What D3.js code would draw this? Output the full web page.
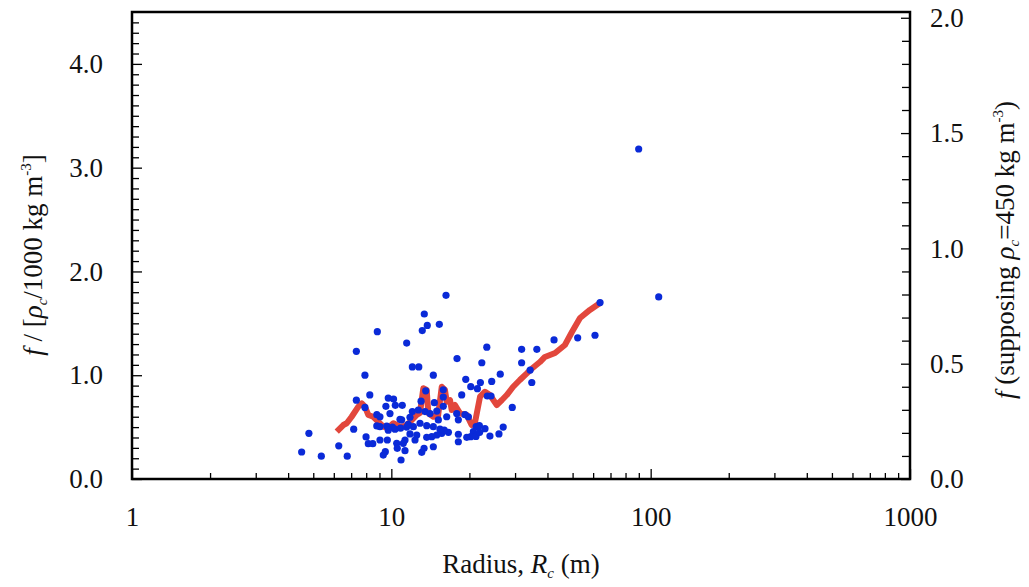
<!DOCTYPE html>
<html><head><meta charset="utf-8">
<script src="https://cdn.jsdelivr.net/npm/d3@7"></script>
</head><body style="margin:0;background:#fff;font-family:'Liberation Serif',serif">
<div id="xt" style="position:absolute;left:0;top:551px;width:1042px;text-align:center;font-size:27px;line-height:1;color:#111;">Radius, <i>R</i><i style="font-size:15px;vertical-align:-5px;">c</i> (m)</div>
<svg id="c" width="1029" height="587" style="display:block">
<text id="lt" transform="translate(42,255) rotate(-90)" text-anchor="middle" font-size="27" fill="#111"><tspan font-style="italic">f</tspan> / [<tspan font-style="italic">ρ</tspan><tspan font-style="italic" font-size="15" dy="5">c</tspan><tspan dy="-5">/1000 kg m</tspan><tspan font-size="15" dy="-11">-3</tspan><tspan dy="11">]</tspan></text>
<text id="rt" transform="translate(1014,250) rotate(-90)" text-anchor="middle" font-size="27" fill="#111"><tspan font-style="italic">f</tspan>  (supposing <tspan font-style="italic">ρ</tspan><tspan font-style="italic" font-size="15" dy="5">c</tspan><tspan dy="-5">=450 kg m</tspan><tspan font-size="15" dy="-11">-3</tspan><tspan dy="11">)</tspan></text>
</svg>
<script>
// Scatter points: radius R_c (m) and f / [rho_c/1000 kg m^-3]
const radius = [4.51,4.81,5.37,6.27,6.76,7.16,8.83,11.46,7.33,7.91,7.33,8.26,9.73,10.2,9.53,10.36,11.02,7.91,9.88,8.79,9.04,7.99,8.15,8.48,9.04,9.65,10.9,9.48,9.31,10.49,10.54,11.29,8.79,9.04,9.6,10.1,9.73,10.33,10.8,10.85,11.46,16.25,13.40,13.76,13.16,15.31,23.34,31.8,12.05,12.76,17.92,22.33,31.8,14.52,26.3,19.36,22.05,24.38,20.24,21.47,18.68,23.45,24.23,29.26,13.57,15.86,15.86,13.02,14.65,15.86,12.05,12.71,13.49,14.10,14.97,17.87,19.23,19.82,16.35,18.13,11.80,10.96,12.9,12.16,11.62,13.69,14.52,15.18,21.23,21.85,22.97,27.0,26.0,24.0,20.72,20.24,19.54,18.13,18.13,16.60,15.65,14.97,14.32,13.69,12.53,11.80,11.29,12.34,11.12,14.52,13.10,13.37,16.0,15.4,36.4,42.4,52.3,61.0,63.8,34.3,34.8,89.9,107.4,21.2,21.9];
const fValue = [0.26,0.44,0.22,0.32,0.22,0.48,1.42,1.31,1.23,1.00,0.76,0.81,0.78,0.77,0.70,0.71,0.71,0.69,0.63,0.62,0.60,0.405,0.34,0.34,0.376,0.376,0.183,0.263,0.231,0.344,0.296,0.273,0.511,0.504,0.51,0.50,0.47,0.48,0.575,0.49,0.50,1.77,1.59,1.48,1.43,1.49,1.27,1.25,1.08,1.08,1.16,1.12,1.12,1.00,1.01,0.96,0.93,0.94,0.89,0.87,0.81,0.80,0.80,0.69,0.85,0.86,0.79,0.75,0.735,0.70,0.65,0.665,0.65,0.63,0.655,0.63,0.62,0.60,0.60,0.57,0.595,0.57,0.537,0.504,0.527,0.514,0.504,0.569,0.504,0.514,0.485,0.50,0.434,0.414,0.456,0.408,0.402,0.431,0.359,0.45,0.44,0.424,0.408,0.402,0.424,0.434,0.376,0.376,0.344,0.311,0.257,0.296,0.47,0.48,1.25,1.34,1.36,1.385,1.70,1.05,0.93,3.18,1.754,0.41,0.45];
// Running average (red curve)
const avgRadius = [6.16,6.53,6.73,7.03,7.46,7.69,7.91,8.15,8.52,9.04,9.31,9.71,10.18,10.8,11.29,11.80,12.53,12.90,13.28,13.69,13.89,14.52,15.14,15.65,16.1,16.35,16.84,17.09,17.6,18.4,19.54,20.4,21.0,21.98,22.97,24.0,25.5,26.7,27.86,29.5,31.3,33.3,34.3,37.4,39.1,42.8,46.7,49.7,53.4,58.3,63.8];
const avgF = [0.456,0.52,0.537,0.60,0.697,0.729,0.697,0.617,0.60,0.537,0.504,0.49,0.537,0.504,0.511,0.549,0.617,0.636,0.874,0.858,0.633,0.60,0.607,0.889,0.858,0.745,0.761,0.665,0.713,0.633,0.617,0.52,0.54,0.793,0.841,0.809,0.713,0.761,0.809,0.889,0.954,1.018,1.05,1.127,1.176,1.214,1.291,1.416,1.551,1.629,1.696];
const xTickValues = [1,10,100,1000];
const yTickValues = [0,1,2,3,4];
const yRightTickValues = [0,0.5,1,1.5,2];

const svg = d3.select("#c");
const L = 132, R = 910, T = 12, B = 479;
const FS = 27;
const x = d3.scaleLog().domain([1,1000]).range([L,R]);
const y = d3.scaleLinear().domain([0,4.5]).range([B,T]);
const yR = d3.scaleLinear().domain([0,4.5*0.45]).range([B,T]);

const xMinor = [];
for (let d=1; d<1000; d*=10) for (let k=2;k<=9;k++) xMinor.push(d*k);
const yMinor = d3.range(0,45).map(i=>i/10).filter(v=>Math.abs(v-Math.round(v))>1e-6);
const yRMinor = d3.range(0,21).map(i=>i/10).filter(v=>Math.abs(v*2-Math.round(v*2))>1e-6);

function style(g){ g.select(".domain").remove(); g.selectAll("line").attr("stroke","#000").attr("stroke-width",1.3);
  g.attr("font-family",null).attr("font-size",FS);
  g.selectAll("text").attr("font-size",FS).attr("fill","#111"); }

svg.append("g").attr("transform",`translate(0,${B})`)
  .call(d3.axisBottom(x).tickValues(xMinor).tickSize(-6).tickFormat("")).call(style);
svg.append("g").attr("transform",`translate(0,${B})`)
  .call(d3.axisBottom(x).tickValues(xTickValues).tickSize(-10).tickPadding(28).tickFormat(d3.format("d"))).call(style);

svg.append("g").attr("transform",`translate(${L},0)`)
  .call(d3.axisLeft(y).tickValues(yMinor).tickSize(-7).tickFormat("")).call(style);
svg.append("g").attr("transform",`translate(${L},0)`)
  .call(d3.axisLeft(y).tickValues(yTickValues).tickSize(-10).tickPadding(29).tickFormat(d3.format(".1f"))).call(style);

svg.append("g").attr("transform",`translate(${R},0)`)
  .call(d3.axisRight(yR).tickValues(yRMinor).tickSize(-8).tickFormat("")).call(style);
svg.append("g").attr("transform",`translate(${R},0)`)
  .call(d3.axisRight(yR).tickValues(yRightTickValues).tickSize(-9).tickPadding(20).tickFormat(d3.format(".1f"))).call(style);

svg.append("rect").attr("x",L).attr("y",T).attr("width",R-L).attr("height",B-T)
  .attr("fill","none").attr("stroke","#000").attr("stroke-width",2.5);

const avg = avgRadius.map((r,i)=>[r,avgF[i]]);
svg.append("path").datum(avg)
  .attr("d", d3.line().x(d=>x(d[0])).y(d=>y(d[1])))
  .attr("fill","none").attr("stroke","#e2473c").attr("stroke-width",6)
  .attr("stroke-linejoin","round").attr("stroke-linecap","butt");

svg.append("g").selectAll("circle").data(radius.map((r,i)=>[r,fValue[i]])).join("circle")
  .attr("cx",d=>x(d[0])).attr("cy",d=>y(d[1])).attr("r",3.6).attr("fill","#0a2ad8");
</script></body></html>
